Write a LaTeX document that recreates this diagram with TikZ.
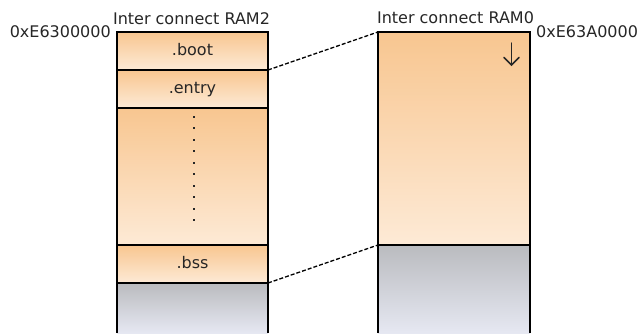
\documentclass[tikz,border=0pt]{standalone}
\usepackage{fontspec}
\setmainfont{DejaVu Sans}
\begin{document}
\begin{tikzpicture}[x=1pt,y=-1pt,
  orfill/.style={top color=orTop,bottom color=orBot,draw=none},
  grfill/.style={top color=grTop,bottom color=grBot,draw=none},
  lbl/.style={font=\fontsize{16}{18}\selectfont,inner sep=0pt,text=black!85,anchor=base},
  border/.style={line width=2pt},
  divider/.style={line width=1.5pt},
  link/.style={dashed,dash pattern=on 4pt off 2pt,line width=1.3pt},
  arrowline/.style={line width=1.5pt,black!85,line cap=round,line join=miter}]
\definecolor{orTop}{HTML}{F8C690}
\definecolor{orBot}{HTML}{FDEAD6}
\definecolor{grTop}{HTML}{BABBBF}
\definecolor{grBot}{HTML}{E6E8F2}
\useasboundingbox (0,0) rectangle (638,333);
% left column fills
\fill[orfill] (117,32) rectangle (268,70);
\fill[orfill] (117,70) rectangle (268,108);
\fill[orfill] (117,108) rectangle (268,245);
\fill[orfill] (117,245) rectangle (268,283);
\fill[grfill] (117,283) rectangle (268,333);
% right column fills
\fill[orfill] (378,32) rectangle (530,245);
\fill[grfill] (378,245) rectangle (530,333);
% nodes for sections
\node[lbl] (boot) at (192.5,55.5) {.boot};
\node[lbl] (entry) at (192.5,93) {.entry};
\node[lbl] (bss) at (192.5,268) {.bss};
\node[lbl] (t2) at (191.5,24.5) {Inter connect RAM2};
\node[lbl] (t0) at (455.5,23) {Inter connect RAM0};
\node[lbl,anchor=base east] (a2) at (111,37.5) {0xE6300000};
\node[lbl,anchor=base west] (a0) at (536,37) {0xE63A0000};
% downward arrow
\coordinate (arrtop) at (511.5,43);
\coordinate (arrtip) at (511.5,65);
\draw[arrowline] (arrtop) -- (arrtip);
\draw[arrowline] (504,57.5) -- (arrtip) -- (519,57.5);
% coordinates
\coordinate (Ltr) at (268,70);
\coordinate (Lbr) at (268,283);
\coordinate (Rtl) at (378,32);
\coordinate (Rbl) at (378,245);
% borders
\draw[border] (117,333) -- (117,32) -- (268,32) -- (268,333);
\draw[divider] (117,70) -- (268,70);
\draw[divider] (117,108) -- (268,108);
\draw[divider] (117,245) -- (268,245);
\draw[divider] (117,283) -- (268,283);
\draw[border] (378,333) -- (378,32) -- (530,32) -- (530,333);
\draw[divider] (378,245) -- (530,245);
% dots
\foreach \i in {0,...,9} \fill[black!85] (193,{115.5+\i*11.55}) rectangle (195,{117.5+\i*11.55});
% links
\draw[link] (Ltr) -- (Rtl);
\draw[link] (Lbr) -- (Rbl);
\end{tikzpicture}
\end{document}
